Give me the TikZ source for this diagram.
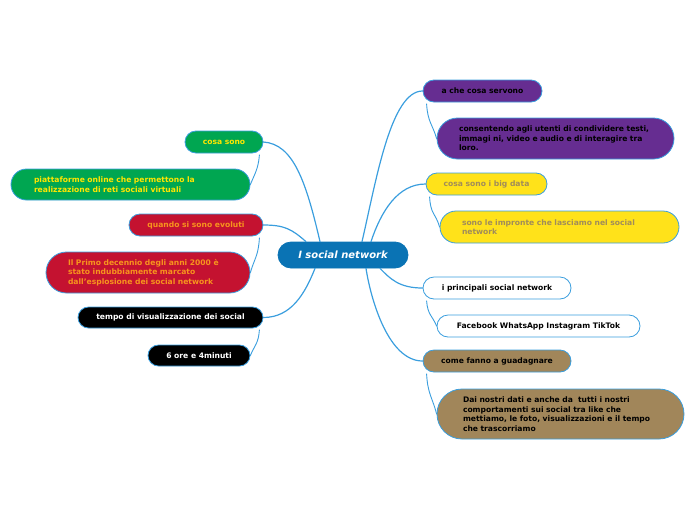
\documentclass[tikz,border=0pt]{standalone}
\usepackage{fontspec}
\setmainfont{DejaVu Sans}
\definecolor{cblue}{RGB}{10,115,180}
\definecolor{bord}{RGB}{58,158,222}
\definecolor{cgreen}{RGB}{0,166,81}
\definecolor{tyellow}{RGB}{255,230,0}
\definecolor{ccrim}{RGB}{196,18,48}
\definecolor{torange}{RGB}{247,148,29}
\definecolor{cpurple}{RGB}{102,45,145}
\definecolor{cyel}{RGB}{255,226,26}
\definecolor{tbrown}{RGB}{160,140,90}
\definecolor{cbrown}{RGB}{161,134,90}
\tikzset{
  box/.style={draw=bord, line width=0.8pt, inner sep=0pt, align=center,
    font=\fontsize{7.6}{9.5}\selectfont\bfseries},
  pill/.style 2 args={minimum width=#1pt, minimum height=#2pt, rounded corners=#2*0.5pt},
  para/.style={align=left},
  link/.style={draw=bord, line width=1.2pt, line cap=round},
  sublink/.style={draw=bord, line width=0.9pt, line cap=round},
}
\begin{document}
\begin{tikzpicture}[x=1pt,y=-1pt]
\useasboundingbox (0,0) rectangle (696,520);
% central
\node[box, draw=cblue, fill=cblue, text=white, pill={130}{26},
  font=\fontsize{10}{12}\selectfont\bfseries\itshape] (c) at (343,255) {I social network};
% left
\node[box, fill=cgreen, text=tyellow, pill={78}{22}] (n1) at (224,142) {cosa sono};
\node[box, fill=cgreen, text=tyellow, pill={239}{31}, para, text width=193pt, inner xsep=23pt] (n1c) at (130.5,184.5)
  {\mbox{piattaforme online che permettono la}\\\mbox{realizzazione di reti sociali virtuali}};
\node[box, fill=ccrim, text=torange, pill={134}{22}] (n2) at (196,225) {quando si sono evoluti};
\node[box, fill=ccrim, text=torange, pill={204}{41}, para, text width=160pt, inner xsep=22pt] (n2c) at (148,272.5)
  {\mbox{Il Primo decennio degli anni 2000 è}\\\mbox{stato indubbiamente marcato}\\\mbox{dall'esplosione dei social network}};
\node[box, fill=black, text=white, pill={185}{21}] (n3) at (170.5,317.5) {tempo di visualizzazione dei social};
\node[box, fill=black, text=white, pill={102}{21}] (n3c) at (199,355.5) {6 ore e 4minuti};
% right
\node[box, fill=cpurple, text=black, pill={119}{22}] (r1) at (482.5,91) {a che cosa servono};
\node[box, fill=cpurple, text=black, pill={237}{41}, para, text width=193pt, inner xsep=22pt] (r1c) at (555.5,138.5)
  {\mbox{consentendo agli utenti di condividere testi,}\\\mbox{immagi ni, video e audio e di interagire tra}\\\mbox{loro.}};
\node[box, fill=cyel, text=tbrown, pill={121}{22}] (r2) at (486.5,184) {cosa sono i big data};
\node[box, fill=cyel, text=tbrown, pill={239}{32}, para, text width=195pt, inner xsep=22pt] (r2c) at (559.5,227)
  {\mbox{sono le impronte che lasciamo nel social}\\\mbox{network}};
\node[box, fill=white, text=black, pill={148}{22}] (r3) at (497,288) {i principali social network};
\node[box, fill=white, text=black, pill={203}{22}] (r3c) at (538.5,326) {Facebook WhatsApp Instagram TikTok};
\node[box, fill=cbrown, text=black, pill={148}{22}] (r4) at (497,361) {come fanno a guadagnare};
\node[box, fill=cbrown, text=black, pill={247}{50}, para, text width=195pt, inner xsep=26pt] (r4c) at (560.5,414)
  {\mbox{Dai nostri dati e anche da\ \ tutti i nostri}\\\mbox{comportamenti sui social tra like che}\\\mbox{mettiamo, le foto, visualizzazioni e il tempo}\\\mbox{che trascorriamo}};
% main links
\draw[link] (n1.east) .. controls +(30,2) and +(-14,-60) .. ([xshift=-23pt]c.north);
\draw[link] (n2.east) .. controls +(22,0) and +(-14,-12) .. ([xshift=-37pt]c.north);
\draw[link] (n3.east) .. controls +(28,0) and +(-10,25) .. ([xshift=-28pt]c.south);
\draw[link] (r1.west) .. controls +(-32,0) and +(14,-60) .. ([xshift=19pt]c.north);
\draw[link] (r2.west) .. controls +(-28,0) and +(10,-30) .. ([xshift=28pt]c.north);
\draw[link] (r3.west) .. controls +(-24,0) and +(10,10) .. ([xshift=37pt]c.south);
\draw[link] (r4.west) .. controls +(-34,0) and +(5,32) .. ([xshift=23pt]c.south);
% child links
\draw[sublink] ([xshift=-4pt,yshift=-1.5pt]n1.south east) .. controls +(-1,14) and +(4,-10) .. (n1c.east);
\draw[sublink] ([xshift=-4pt,yshift=-1.5pt]n2.south east) .. controls +(-1,18) and +(4,-14) .. (n2c.east);
\draw[sublink] ([xshift=-4pt,yshift=-1.5pt]n3.south east) .. controls +(-1,14) and +(4,-10) .. (n3c.east);
\draw[sublink] ([xshift=4pt,yshift=-1.5pt]r1.south west) .. controls +(1,18) and +(-4,-14) .. (r1c.west);
\draw[sublink] ([xshift=4pt,yshift=-1.5pt]r2.south west) .. controls +(1,18) and +(-4,-14) .. (r2c.west);
\draw[sublink] ([xshift=4pt,yshift=-1.5pt]r3.south west) .. controls +(1,14) and +(-4,-10) .. (r3c.west);
\draw[sublink] ([xshift=4pt,yshift=-1.5pt]r4.south west) .. controls +(1,20) and +(-4,-16) .. (r4c.west);
\end{tikzpicture}
\end{document}
